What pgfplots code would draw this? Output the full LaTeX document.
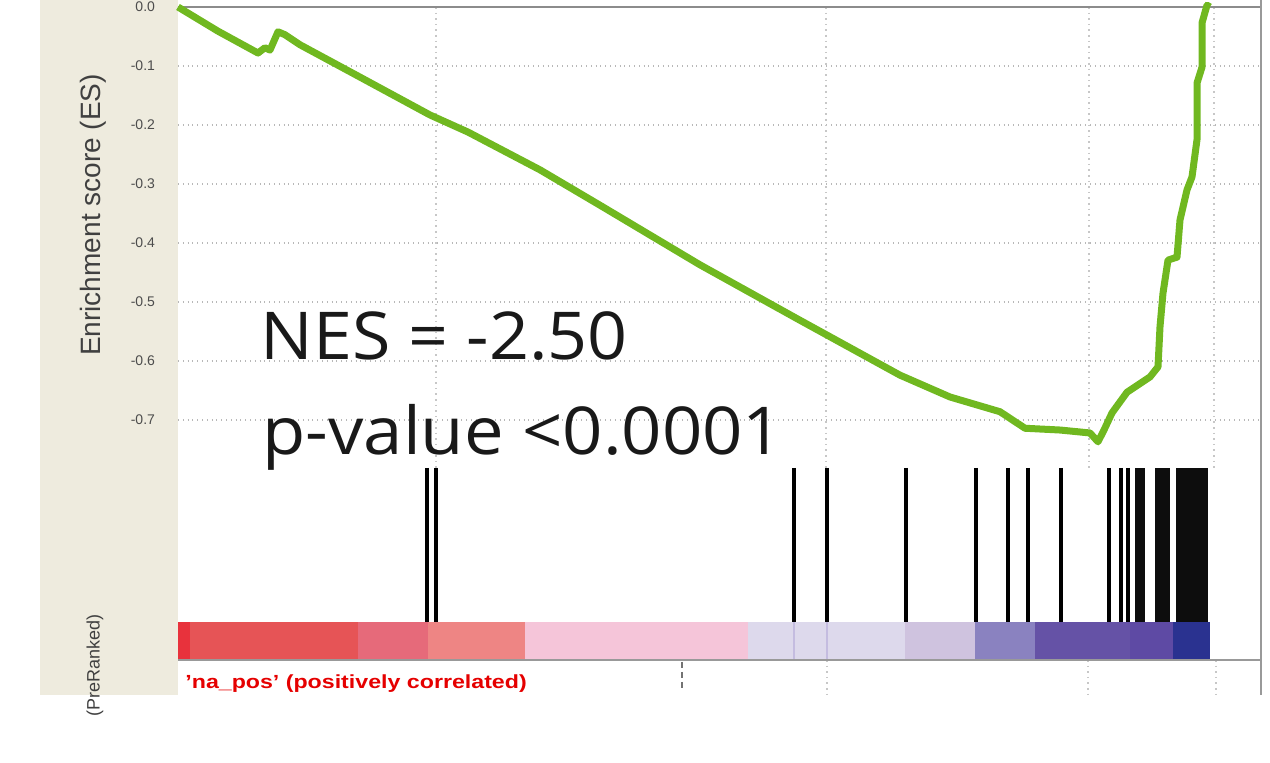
\documentclass[border=0pt]{standalone}
\usepackage{pgfplots}
\pgfplotsset{compat=1.18}
\usepackage{fontspec}
\setmainfont{Liberation Sans}
\newfontfamily\nesfont{Open Sans}
\definecolor{beige}{RGB}{238,235,222}
\definecolor{esgreen}{RGB}{112,184,32}
\definecolor{cb1}{RGB}{232,50,60}
\definecolor{cb2}{RGB}{230,84,86}
\definecolor{cb3}{RGB}{230,106,122}
\definecolor{cb4}{RGB}{238,133,132}
\definecolor{cb5}{RGB}{245,197,217}
\definecolor{cb6}{RGB}{221,217,236}
\definecolor{cb7}{RGB}{207,195,223}
\definecolor{cb8}{RGB}{138,130,192}
\definecolor{cb9}{RGB}{101,82,166}
\definecolor{cb10}{RGB}{94,74,164}
\definecolor{cb11}{RGB}{42,50,144}
\definecolor{cbline}{RGB}{196,188,224}

\pgfplotstableread{
x es
0 0
40 -0.041
80 -0.078
87 -0.069
92 -0.073
100 -0.042
107 -0.047
122 -0.064
180 -0.117
252 -0.183
290 -0.212
362 -0.276
422 -0.336
522 -0.437
622 -0.531
722 -0.624
772 -0.661
822 -0.686
847 -0.714
882 -0.717
912 -0.722
920 -0.737
926 -0.717
934 -0.688
949 -0.653
972 -0.627
980 -0.610
982 -0.542
985 -0.485
990 -0.429
999 -0.424
1002 -0.361
1009 -0.310
1014 -0.288
1019 -0.225
1019 -0.129
1024 -0.102
1024 -0.027
1029 0.003
1032 0
}\esdata

\begin{document}
\begin{tikzpicture}
\useasboundingbox (0,0) rectangle (635pt,381.5pt);
\begin{scope}[x=0.5pt,y=-0.5pt,shift={(0pt,381.5pt)}]
\fill[beige] (40,0) rectangle (178,695);
\node[rotate=90, font=\fontsize{14}{14}\selectfont, text=black!75] at (93,215) {Enrichment score (ES)};
\node[rotate=90, anchor=east, font=\fontsize{9}{9}\selectfont, text=black!75] at (95,607) {(PreRanked)};
\end{scope}

\begin{axis}[
  at={(89pt,34pt)}, anchor=south west,
  width=541pt, height=347.5pt, scale only axis,
  xmin=0, xmax=1082, ymin=-1.1661, ymax=0.0119,
  axis line style={draw=none},
  xtick=\empty,
  ytick={-0.7,-0.6,-0.5,-0.4,-0.3,-0.2,-0.1,0},
  yticklabels={-0.7,-0.6,-0.5,-0.4,-0.3,-0.2,-0.1,0.0},
  major tick length=0pt,
  ymajorgrids,
  grid style={black!28, dotted, line width=0.8pt},
  yticklabel style={font=\fontsize{7}{7}\selectfont, text=black!70, xshift=-8pt},
  unbounded coords=jump,
  clip=false,
]
% vertical grid lines (ES panel and bottom panel)
\addplot[black!22, dotted, line width=0.8pt] coordinates {
 (258,0) (258,-0.781) (258,nan)
 (648,0) (648,-0.781) (648,nan)
 (911,0) (911,-0.781) (911,nan)
 (1036,0) (1036,-0.781) (1036,nan)
 (649,-1.1068) (649,-1.1661) (649,nan)
 (910,-1.1068) (910,-1.1661) (910,nan)
 (1038,-1.1068) (1038,-1.1661)
};
\addplot[black!55, densely dashed, line width=0.8pt] coordinates {(504,-1.11) (504,-1.16)};
% zero line
\addplot[black!45, line width=1pt] coordinates {(0,0) (1082,0)};
% right border
\addplot[black!40, line width=1.2pt] coordinates {(1083,0.0119) (1083,-1.1661)};
% colour bar
\addplot[fill=cb1, draw=none] coordinates {(0,-1.042) (12,-1.042) (12,-1.1068) (0,-1.1068)} -- cycle;
\addplot[fill=cb2, draw=none] coordinates {(12,-1.042) (180,-1.042) (180,-1.1068) (12,-1.1068)} -- cycle;
\addplot[fill=cb3, draw=none] coordinates {(180,-1.042) (250,-1.042) (250,-1.1068) (180,-1.1068)} -- cycle;
\addplot[fill=cb4, draw=none] coordinates {(250,-1.042) (347,-1.042) (347,-1.1068) (250,-1.1068)} -- cycle;
\addplot[fill=cb5, draw=none] coordinates {(347,-1.042) (570,-1.042) (570,-1.1068) (347,-1.1068)} -- cycle;
\addplot[fill=cb6, draw=none] coordinates {(570,-1.042) (727,-1.042) (727,-1.1068) (570,-1.1068)} -- cycle;
\addplot[fill=cb7, draw=none] coordinates {(727,-1.042) (797,-1.042) (797,-1.1068) (727,-1.1068)} -- cycle;
\addplot[fill=cb8, draw=none] coordinates {(797,-1.042) (857,-1.042) (857,-1.1068) (797,-1.1068)} -- cycle;
\addplot[fill=cb9, draw=none] coordinates {(857,-1.042) (952,-1.042) (952,-1.1068) (857,-1.1068)} -- cycle;
\addplot[fill=cb10, draw=none] coordinates {(952,-1.042) (995,-1.042) (995,-1.1068) (952,-1.1068)} -- cycle;
\addplot[fill=cb11, draw=none] coordinates {(995,-1.042) (1032,-1.042) (1032,-1.1068) (995,-1.1068)} -- cycle;
\addplot[cbline, line width=0.8pt] coordinates {(616,-1.042) (616,-1.1068) (616,nan) (649,-1.042) (649,-1.1068)};
% bottom line of colour bar
\addplot[black!40, line width=1.2pt] coordinates {(0,-1.1068) (1083,-1.1068)};
% hits (barcode)
\addplot[black, line width=2pt] coordinates {
 (249,-0.781) (249,-1.042) (249,nan)
 (258,-0.781) (258,-1.042) (258,nan)
 (616,-0.781) (616,-1.042) (616,nan)
 (649,-0.781) (649,-1.042) (649,nan)
 (728,-0.781) (728,-1.042) (728,nan)
 (798,-0.781) (798,-1.042) (798,nan)
 (830,-0.781) (830,-1.042) (830,nan)
 (850,-0.781) (850,-1.042) (850,nan)
 (883,-0.781) (883,-1.042) (883,nan)
 (931,-0.781) (931,-1.042) (931,nan)
 (943,-0.781) (943,-1.042) (943,nan)
 (950,-0.781) (950,-1.042)
};
\addplot[fill=black!95, draw=none] coordinates {(957,-0.781) (967,-0.781) (967,-1.042) (957,-1.042)} -- cycle;
\addplot[fill=black!95, draw=none] coordinates {(977,-0.781) (992,-0.781) (992,-1.042) (977,-1.042)} -- cycle;
\addplot[fill=black!95, draw=none] coordinates {(998,-0.781) (1030,-0.781) (1030,-1.042) (998,-1.042)} -- cycle;
% running enrichment score
\addplot[esgreen, line width=3.5pt, line join=round] table[x=x, y=es] {\esdata};
\end{axis}

\begin{scope}[x=0.5pt,y=-0.5pt,shift={(0pt,381.5pt)}]
\node[anchor=base west, inner sep=0, font=\nesfont\fontsize{33}{33}\selectfont, text=black!90] at (260,360) {\scalebox{1.06}[1]{NES = -2.50}};
\node[anchor=base west, inner sep=0, font=\nesfont\fontsize{33}{33}\selectfont, text=black!90] at (262,455) {\scalebox{1.07}[1]{p-value <0.0001}};
\node[anchor=base west, inner sep=0, font=\fontsize{9.5}{9.5}\selectfont\bfseries, text=red!90!black] at (185,689) {\scalebox{1.22}[1]{'na\_pos' (positively correlated)}};
\end{scope}
\end{tikzpicture}
\end{document}
